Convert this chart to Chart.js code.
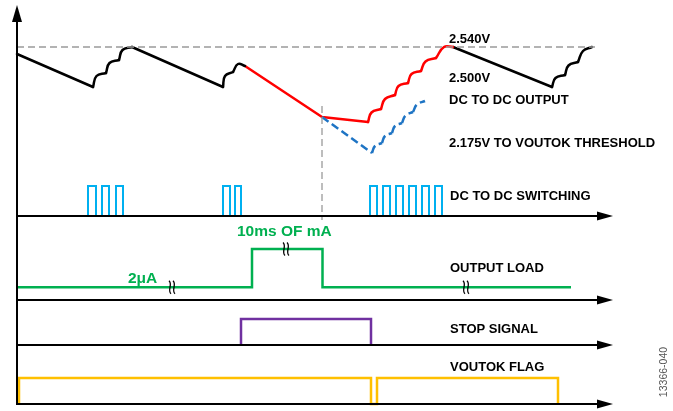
<!DOCTYPE html>
<html>
<head>
<meta charset="utf-8">
<script src="https://cdn.jsdelivr.net/npm/chart.js@4.4.1/dist/chart.umd.min.js"></script>
<style>
  html, body { margin: 0; padding: 0; background: #fff; }
  #wrap { width: 673px; height: 411px; }
</style>
</head>
<body>
<div id="wrap"><canvas id="timing" width="673" height="411"></canvas></div>
<script>
// Time runs along the horizontal axes in arbitrary units (0 = vertical axis).

// ---- DC to DC output, [t, volts] ----
// straight discharge runs
const outFall1 = [[0, 2.533], [76, 2.500]];
const outFall2 = [[115, 2.540], [206, 2.500]];
const outDroop = [[228, 2.521], [305, 2.470], [351, 2.465]];
const outFall3 = [[436, 2.540], [535, 2.500]];
// recharge ripples: cusp, crest, cusp, crest, ..., cusp
const outRipple1 = [[76, 2.500], [79.5, 2.511], [89, 2.514], [92.5, 2.524], [102, 2.527], [105.5, 2.537], [115, 2.540]];
const outRipple2 = [[206, 2.500], [208, 2.511], [216, 2.515], [221, 2.523], [228, 2.521]];
const outRecover = [[351, 2.465], [354.5, 2.4745], [364, 2.478], [368, 2.488], [378, 2.492], [381.5, 2.501],
  [391, 2.504], [394.5, 2.513], [404, 2.516], [408.5, 2.5255], [419, 2.529], [427, 2.540], [436, 2.540]];
const outRipple3 = [[535, 2.500], [538.5, 2.509], [548, 2.512], [551.5, 2.5215], [561, 2.525], [566, 2.536], [575, 2.540]];

// 2.175V to VOUTOK threshold (dashed)
const threshDroop = [[305, 2.470], [355, 2.434]];
const threshRipple = [[355, 2.434], [358, 2.441], [365, 2.444], [368, 2.451], [375, 2.454], [378, 2.461],
  [385, 2.464], [388.5, 2.4715], [396, 2.475], [400, 2.4825], [408, 2.486]];

// reference lines
const refHigh = [[0, 2.540], [578, 2.540]];
const loadEdgeMarker = [[305, 2.481], [305, 2.367]];

// ---- DC to DC switching: [rise, fall] of each pulse ----
const swPulses = [[71, 79], [85, 92], [99, 106], [206, 213], [218, 224],
  [353, 360], [366, 373], [379, 386], [392, 399], [405, 412], [418, 425]];

// ---- output load (0.25 = 2µA, 1 = 10ms of mA) ----
const loadT = [0, 235, 235, 305.5, 305.5, 554];
const loadLevel = [0.25, 0.25, 1, 1, 0.25, 0.25];
const loadBreaks = [[155, 0.25], [269, 1], [449, 0.25]];

// ---- stop signal ----
const stopT = [224, 224, 354, 354];
const stopLevel = [0, 1, 1, 0];

// ---- VOUTOK flag ----
const vokT = [2, 2, 354, 354, 360, 360, 541, 541];
const vokLevel = [0, 1, 1, 0, 0, 1, 1, 0];

// ---- texts ----
const annotations = [
  { text: '2.540V', axis: 'yV', t: 432, y: 2.548 },
  { text: '2.500V', axis: 'yV', t: 432, y: 2.509 },
  { text: 'DC TO DC OUTPUT', axis: 'yV', t: 432, y: 2.487 },
  { text: '2.175V TO VOUTOK THRESHOLD', axis: 'yV', t: 432, y: 2.444 },
  { text: 'DC TO DC SWITCHING', axis: 'ySw', t: 433, y: 0.667 },
  { text: '10ms OF mA', axis: 'yLoad', t: 220, y: 1.333, color: '#00b050', size: 15.5 },
  { text: '2μA', axis: 'yLoad', t: 111, y: 0.412, color: '#00b050', size: 15.5 },
  { text: 'OUTPUT LOAD', axis: 'yLoad', t: 433, y: 0.627 },
  { text: 'STOP SIGNAL', axis: 'yStop', t: 433, y: 0.615 },
  { text: 'VOUTOK FLAG', axis: 'yVok', t: 433, y: 1.423 },
  { text: '13366-040', axis: 'yVok', t: 647, y: 1.23, color: '#555', size: 10.5, bold: false, rotate: true }
];

const W = 673, H = 411;
const AXIS_END_T = 596;
const V_AXIS_TOP = 2.582;
const laneAxes = ['ySw', 'yLoad', 'yStop', 'yVok'];

// linear scale whose value v0 sits at pixel p0 and v1 at pixel p1
function anchored(v0, p0, v1, p1, horizontal) {
  const per = (v1 - v0) / (p1 - p0);
  const at = p => v0 + (p - p0) * per;
  return horizontal
    ? { type: 'linear', display: false, min: at(0), max: at(W) }
    : { type: 'linear', display: false, min: at(H), max: at(0) };
}

const pts = arr => arr.map(([x, y]) => ({ x, y }));
const zipPts = (ts, ys) => ts.map((x, i) => ({ x, y: ys[i] }));

function lineSet(data, color, yAxisID, extra) {
  return Object.assign({
    data, yAxisID, xAxisID: 'x',
    borderColor: color, borderWidth: 2.5,
    showLine: true, pointRadius: 0, pointHoverRadius: 0,
    tension: 0, fill: false,
    borderCapStyle: 'round', borderJoinStyle: 'round'
  }, extra);
}

function rippleSets(arr, color, extra) {
  const sets = [];
  for (let i = 0; i + 2 < arr.length; i += 2) {
    sets.push(lineSet(pts(arr.slice(i, i + 3)), color, 'yV', Object.assign({ tension: 0.45 }, extra)));
  }
  return sets;
}

function pulseData(pulses) {
  const data = [];
  pulses.forEach(([a, b]) => {
    data.push({ x: a, y: 0 }, { x: a, y: 1 }, { x: b, y: 1 }, { x: b, y: 0 }, { x: b, y: null });
  });
  return data;
}

const BLACK = '#000000', RED = '#ff0000', BLUE = '#1e74c4';
const dashBlue = { borderDash: [8, 4], borderCapStyle: 'butt' };
const digital = { borderJoinStyle: 'miter', borderCapStyle: 'butt' };

const datasets = [
  lineSet(pts(refHigh), '#9a9a9a', 'yV', { borderWidth: 1.3, borderDash: [7, 4], borderCapStyle: 'butt' }),
  lineSet(pts(loadEdgeMarker), '#9a9a9a', 'yV', { borderWidth: 1.3, borderDash: [7, 4], borderCapStyle: 'butt' }),
  lineSet(pts(threshDroop), BLUE, 'yV', dashBlue),
  ...rippleSets(threshRipple, BLUE, dashBlue),
  lineSet(pts(outFall1), BLACK, 'yV'),
  ...rippleSets(outRipple1, BLACK),
  lineSet(pts(outFall2), BLACK, 'yV'),
  ...rippleSets(outRipple2, BLACK),
  lineSet(pts(outDroop), RED, 'yV'),
  ...rippleSets(outRecover, RED),
  lineSet(pts(outFall3), BLACK, 'yV'),
  ...rippleSets(outRipple3, BLACK),
  lineSet(pulseData(swPulses), '#00b0f0', 'ySw', Object.assign({ borderWidth: 2, spanGaps: false }, digital)),
  lineSet(zipPts(loadT, loadLevel), '#00b050', 'yLoad', digital),
  lineSet(zipPts(stopT, stopLevel), '#7030a0', 'yStop', digital),
  lineSet(zipPts(vokT, vokLevel), '#ffc000', 'yVok', digital)
];

const timingDecor = {
  id: 'timingDecor',
  afterDatasetsDraw(chart) {
    const { ctx, scales } = chart;
    const x0 = scales.x.getPixelForValue(0);
    const xTip = scales.x.getPixelForValue(AXIS_END_T);
    ctx.save();
    ctx.strokeStyle = '#000';
    ctx.fillStyle = '#000';

    // break marks on the load trace
    ctx.lineWidth = 1.3;
    loadBreaks.forEach(([t, lvl]) => {
      const px = scales.x.getPixelForValue(t);
      const py = scales.yLoad.getPixelForValue(lvl);
      [-2, 2].forEach(dx => {
        ctx.beginPath();
        ctx.moveTo(px + dx - 1, py - 6.5);
        ctx.bezierCurveTo(px + dx + 3, py - 3, px + dx - 3, py + 3, px + dx + 1, py + 6.5);
        ctx.stroke();
      });
    });

    // lane axes with arrows
    ctx.lineWidth = 2;
    laneAxes.forEach(id => {
      const y = scales[id].getPixelForValue(0);
      ctx.beginPath();
      ctx.moveTo(x0, y);
      ctx.lineTo(xTip - 10, y);
      ctx.stroke();
      ctx.beginPath();
      ctx.moveTo(xTip, y);
      ctx.lineTo(xTip - 16, y - 4.5);
      ctx.lineTo(xTip - 16, y + 4.5);
      ctx.closePath();
      ctx.fill();
    });

    // vertical axis
    const yBottom = scales.yVok.getPixelForValue(0) + 1;
    const yTip = scales.yV.getPixelForValue(V_AXIS_TOP);
    ctx.beginPath();
    ctx.moveTo(x0, yBottom);
    ctx.lineTo(x0, yTip + 10);
    ctx.stroke();
    ctx.beginPath();
    ctx.moveTo(x0, yTip);
    ctx.lineTo(x0 - 5, yTip + 17);
    ctx.lineTo(x0 + 5, yTip + 17);
    ctx.closePath();
    ctx.fill();
    ctx.restore();
  },
  afterDraw(chart) {
    const { ctx, scales } = chart;
    ctx.save();
    annotations.forEach(a => {
      const px = scales.x.getPixelForValue(a.t);
      const py = scales[a.axis].getPixelForValue(a.y);
      const size = a.size || 13;
      ctx.font = (a.bold === false ? '' : 'bold ') + size + 'px "Liberation Sans", Arial, sans-serif';
      ctx.fillStyle = a.color || '#000';
      ctx.textBaseline = 'middle';
      if (a.rotate) {
        ctx.save();
        ctx.translate(px, py);
        ctx.rotate(-Math.PI / 2);
        ctx.textAlign = 'center';
        ctx.fillText(a.text, 0, 0);
        ctx.restore();
      } else {
        ctx.textAlign = 'left';
        ctx.fillText(a.text, px, py);
      }
    });
    ctx.restore();
  }
};

new Chart(document.getElementById('timing'), {
  type: 'scatter',
  data: { datasets },
  options: {
    responsive: false,
    animation: false,
    devicePixelRatio: 1,
    events: [],
    layout: { padding: 0 },
    plugins: {
      legend: { display: false },
      tooltip: { enabled: false },
      title: { display: false }
    },
    scales: {
      x: anchored(0, 17, 100, 117, true),
      yV: anchored(2.540, 47, 2.500, 87),
      ySw: anchored(0, 216, 1, 186),
      yLoad: anchored(0, 300, 1, 249),
      yStop: anchored(0, 345, 1, 319),
      yVok: anchored(0, 404, 1, 378)
    }
  },
  plugins: [timingDecor]
});
</script>
</body>
</html>
